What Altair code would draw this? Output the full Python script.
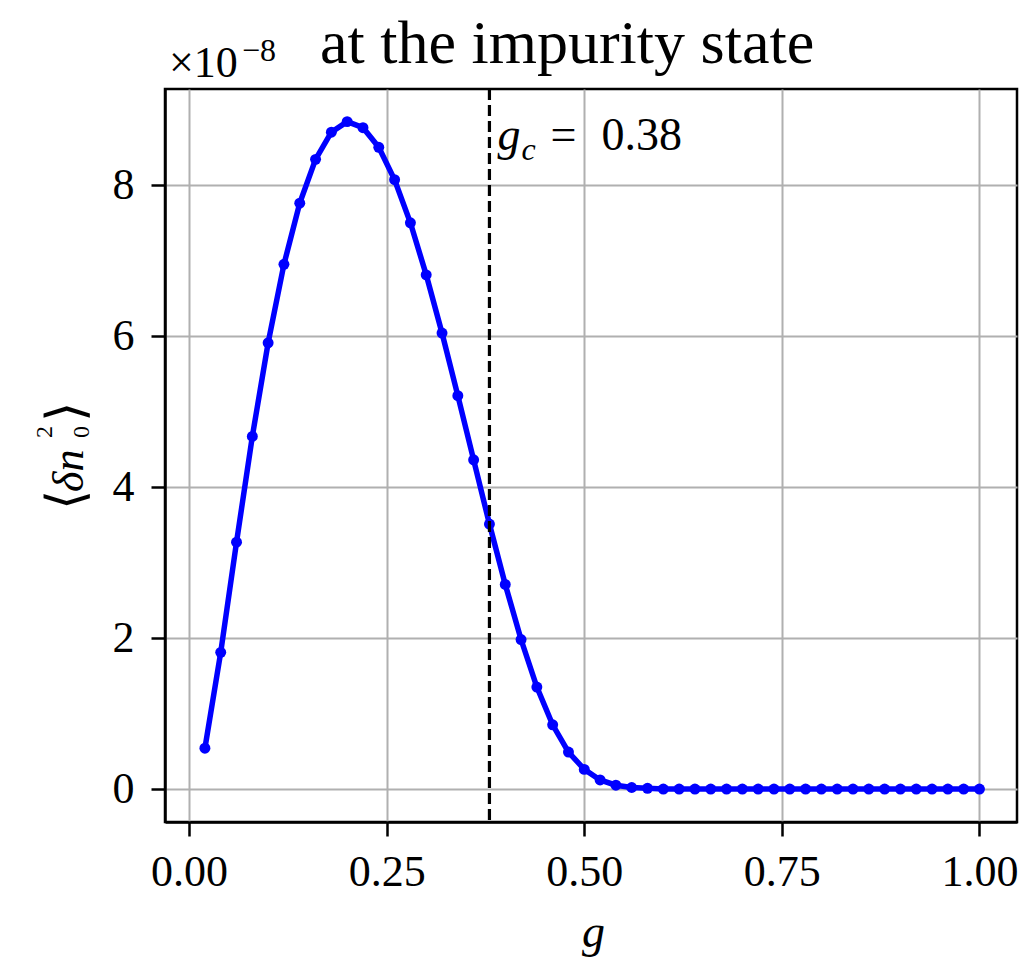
import altair as alt
import pandas as pd

g_vals = [0.02, 0.04, 0.06, 0.08, 0.10, 0.12, 0.14, 0.16, 0.18, 0.20,
          0.22, 0.24, 0.26, 0.28, 0.30, 0.32, 0.34, 0.36, 0.38, 0.40,
          0.42, 0.44, 0.46, 0.48, 0.50, 0.52, 0.54, 0.56, 0.58, 0.60,
          0.62, 0.64, 0.66, 0.68, 0.70, 0.72, 0.74, 0.76, 0.78, 0.80,
          0.82, 0.84, 0.86, 0.88, 0.90, 0.92, 0.94, 0.96, 0.98, 1.00]
dn2_vals = [0.54, 1.81, 3.27, 4.67, 5.91, 6.95, 7.76, 8.34, 8.70, 8.84,
            8.76, 8.50, 8.07, 7.50, 6.81, 6.04, 5.21, 4.36, 3.51, 2.71,
            1.98, 1.35, 0.85, 0.49, 0.26, 0.12, 0.05, 0.02, 0.01, 0.0,
            0.0, 0.0, 0.0, 0.0, 0.0, 0.0, 0.0, 0.0, 0.0, 0.0,
            0.0, 0.0, 0.0, 0.0, 0.0, 0.0, 0.0, 0.0, 0.0, 0.0]
g_critical = [0.38]
x_ticks = [0.0, 0.25, 0.5, 0.75, 1.0]
y_ticks = [0, 2, 4, 6, 8]

df = pd.DataFrame({"g": g_vals, "dn2": dn2_vals})
df_gc = pd.DataFrame({"gc": g_critical})
one = pd.DataFrame({"k": [0]})

SERIF = "Liberation Serif"
BLUE = "#0000ff"

xscale = alt.Scale(domain=[-0.0305, 1.0475], nice=False, zero=False)
yscale = alt.Scale(domain=[-0.437, 9.272], nice=False, zero=False)

xaxis = alt.Axis(values=x_ticks, format=".2f", title="g",
                 titleFontStyle="italic", titleFont=SERIF, titleFontSize=46,
                 titleFontWeight="normal", titleX=428, titleY=124,
                 titleBaseline="alphabetic", titleAlign="center",
                 labelFlush=False, labelOverlap=False, labelPadding=14)
yaxis = alt.Axis(values=y_ticks, title=None, labelFlush=False,
                 labelOverlap=False, labelPadding=17)

base = alt.Chart(df).encode(
    x=alt.X("g:Q", scale=xscale, axis=xaxis),
    y=alt.Y("dn2:Q", scale=yscale, axis=yaxis),
)
line = base.mark_line(color=BLUE, strokeWidth=5.5)
pts = base.mark_circle(color=BLUE, size=120, opacity=1)

rule = alt.Chart(df_gc).mark_rule(
    color="black", strokeWidth=3.2, strokeDash=[11, 5]
).encode(x=alt.X("gc:Q", scale=xscale))


def gc_text(txt, dx, y, size, style="normal"):
    return alt.Chart(df_gc).mark_text(
        text=txt, font=SERIF, fontSize=size, fontStyle=style, align="left",
        baseline="alphabetic", dx=dx, color="black"
    ).encode(x=alt.X("gc:Q", scale=xscale), y=alt.value(y))


ann = [
    gc_text("g", 8, 61, 46, "italic"),
    gc_text("c", 32, 71, 32, "italic"),
    gc_text("=", 61, 61, 46),
    gc_text("0.38", 112, 61, 46),
]


def free_text(txt, x, y, size, style="normal", angle=0):
    return alt.Chart(one).mark_text(
        text=txt, font=SERIF, fontSize=size, fontStyle=style, align="left",
        baseline="alphabetic", color="black", angle=angle
    ).encode(x=alt.value(x), y=alt.value(y))


texts = [
    free_text("at the impurity state", 155, -26, 62),
    free_text("×10", 4, -12, 44),
    free_text("−8", 77, -28, 32),
    # y-axis title  <δ n_0^2>
    free_text("⟨", -82, 421, 52, angle=270),
    free_text("δn", -82, 403, 44, "italic", angle=270),
    free_text("2", -113, 349, 24, angle=270),
    free_text("0", -76, 349, 24, angle=270),
    free_text("⟩", -82, 333, 52, angle=270),
]

chart = alt.layer(
    line, pts, rule, *ann, *texts
).properties(
    width=852, height=733,
    background="white",
    autosize=alt.AutoSizeParams(type="none"),
    padding={"left": 157, "top": 81, "right": 8, "bottom": 135},
).configure_view(
    stroke="black", strokeWidth=2.5
).configure_axis(
    labelFont=SERIF, labelFontSize=44, labelColor="black",
    tickColor="black", tickSize=14, tickWidth=2.5,
    domainColor="black", domainWidth=2.5,
    grid=True, gridColor="#b0b0b0", gridWidth=2, gridOpacity=1,
)

chart.save("out.html", embed_options={"renderer": "svg", "actions": False})
